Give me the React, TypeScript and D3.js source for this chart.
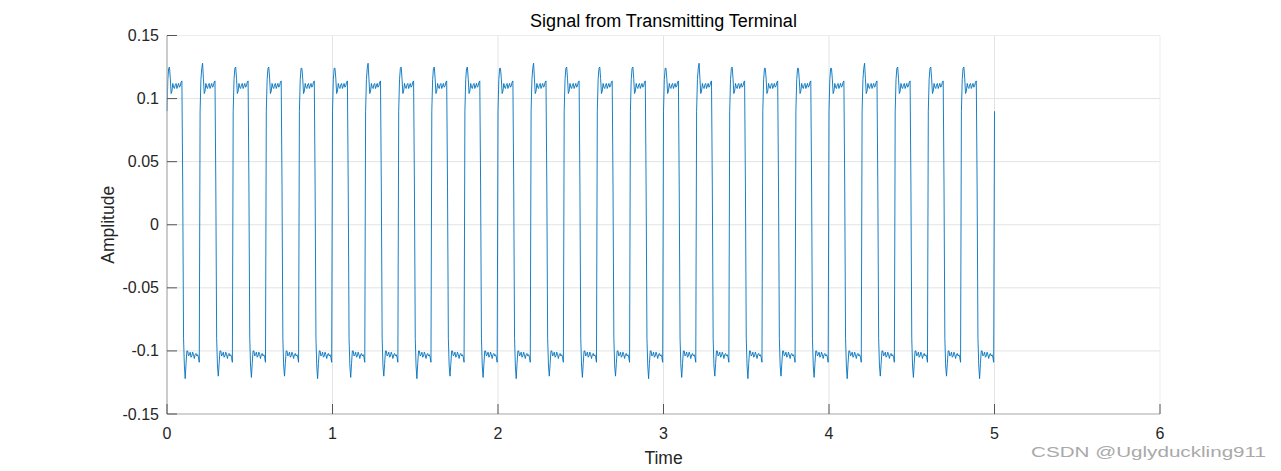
import React from "react";
import * as d3 from "d3";

// ---- data ----
const sampleStep = 0.005; // s between samples
const cycleLength = 0.2; // s
const cycleCount = 25;
// one cycle of the waveform; PEAK / TROUGH slots are per-cycle
const cycleShape = [
  0.09, 0.115, 0.124, NaN, 0.116, 0.104, 0.106, 0.112, 0.109, 0.108,
  0.111, 0.112, 0.108, 0.11, 0.112, 0.109, 0.11, 0.113, 0.114, 0.03,
  -0.09, -0.112, NaN, -0.11, -0.1, -0.1, -0.104, -0.103, -0.101, -0.105,
  -0.104, -0.101, -0.103, -0.106, -0.103, -0.102, -0.104, -0.103, -0.105, -0.109,
];
const peakIndex = 3;
const troughIndex = 22;
const cyclePeaks = [
  0.125, 0.128, 0.125, 0.125, 0.124, 0.124, 0.128, 0.125, 0.125, 0.125,
  0.124, 0.128, 0.125, 0.125, 0.125, 0.124, 0.128, 0.125, 0.124, 0.124,
  0.124, 0.128, 0.125, 0.125, 0.125,
];
const cycleTroughs = [
  -0.122, -0.12, -0.121, -0.12, -0.122, -0.121, -0.12, -0.122, -0.12, -0.121,
  -0.122, -0.12, -0.121, -0.12, -0.122, -0.121, -0.12, -0.122, -0.12, -0.121,
  -0.122, -0.12, -0.121, -0.12, -0.122,
];
const finalValue = 0.09;
const xTicks = [0, 1, 2, 3, 4, 5, 6];
const yTicks = [-0.15, -0.1, -0.05, 0, 0.05, 0.1, 0.15];
const yTickLabels = ["-0.15", "-0.1", "-0.05", "0", "0.05", "0.1", "0.15"];
const titleText = "Signal from Transmitting Terminal";
const xLabel = "Time";
const yLabel = "Amplitude";
const watermark = "CSDN @Uglyduckling911";

type Pt = { t: number; v: number };
const series: Pt[] = [];
for (let k = 0; k < cycleCount; k++) {
  cycleShape.forEach((s, i) => {
    let v = s;
    if (i === peakIndex) v = cyclePeaks[k];
    if (i === troughIndex) v = cycleTroughs[k];
    series.push({ t: k * cycleLength + i * sampleStep, v });
  });
}
series.push({ t: cycleCount * cycleLength, v: finalValue });

export default function App() {
  const W = 1281, H = 471;
  const left = 167, right = 1160, top = 35.5, bottom = 414;
  const x = d3.scaleLinear().domain([0, 6]).range([left, right]);
  const y = d3.scaleLinear().domain([-0.15, 0.15]).range([bottom, top]);
  const line = d3.line<Pt>().x((d) => x(d.t)).y((d) => y(d.v));
  const font = "'Liberation Sans', Arial, Helvetica, sans-serif";
  const tickColor = "#262626";
  const axisColor = "#a8a8a8";
  const gridColor = "#e3e3e3";
  const tickLen = 10;
  return (
    <svg width={W} height={H} style={{ position: "absolute", left: 0, top: 0, background: "#fff" }} fontFamily={font}>
      <rect x={0} y={0} width={W} height={H} fill="#fff" />
      {/* grid */}
      {xTicks.slice(1, -1).map((t) => (
        <line key={"gx" + t} x1={x(t)} x2={x(t)} y1={top} y2={bottom} stroke={gridColor} strokeWidth={1} />
      ))}
      {yTicks.slice(1, -1).map((t) => (
        <line key={"gy" + t} x1={left} x2={right} y1={y(t)} y2={y(t)} stroke={gridColor} strokeWidth={1} />
      ))}
      {/* box top/right */}
      <line x1={left} x2={right} y1={top} y2={top} stroke="#ececec" strokeWidth={1} />
      <line x1={right} x2={right} y1={top} y2={bottom} stroke="#ececec" strokeWidth={1} />
      {/* signal */}
      <path d={line(series) || ""} fill="none" stroke="#0072BD" strokeWidth={0.9} strokeLinejoin="round" />
      {/* axes */}
      <line x1={left} x2={right} y1={bottom} y2={bottom} stroke={axisColor} strokeWidth={1.2} />
      <line x1={left} x2={left} y1={top} y2={bottom} stroke={axisColor} strokeWidth={1.2} />
      {xTicks.map((t) => (
        <g key={"xt" + t}>
          <line x1={x(t)} x2={x(t)} y1={bottom} y2={bottom - tickLen} stroke="#555" strokeWidth={1} />
          <text x={x(t)} y={439} textAnchor="middle" fontSize={16} fill={tickColor}>{t}</text>
        </g>
      ))}
      {yTicks.map((t, i) => (
        <g key={"yt" + t}>
          <line x1={left} x2={left + tickLen} y1={y(t)} y2={y(t)} stroke="#555" strokeWidth={1} />
          <text x={159} y={y(t) + 5.5} textAnchor="end" fontSize={16} fill={tickColor}>{yTickLabels[i]}</text>
        </g>
      ))}
      <text x={(left + right) / 2} y={27} textAnchor="middle" fontSize={18} fill="#000">{titleText}</text>
      <text x={(left + right) / 2} y={464} textAnchor="middle" fontSize={17.5} fill={tickColor}>{xLabel}</text>
      <text transform={`translate(114, ${y(0)}) rotate(-90)`} textAnchor="middle" fontSize={17.5} fill={tickColor}>{yLabel}</text>
      <text x={1031} y={457} fontSize={15} fill="#a9a9a9" textLength={235} lengthAdjust="spacingAndGlyphs">{watermark}</text>
    </svg>
  );
}
